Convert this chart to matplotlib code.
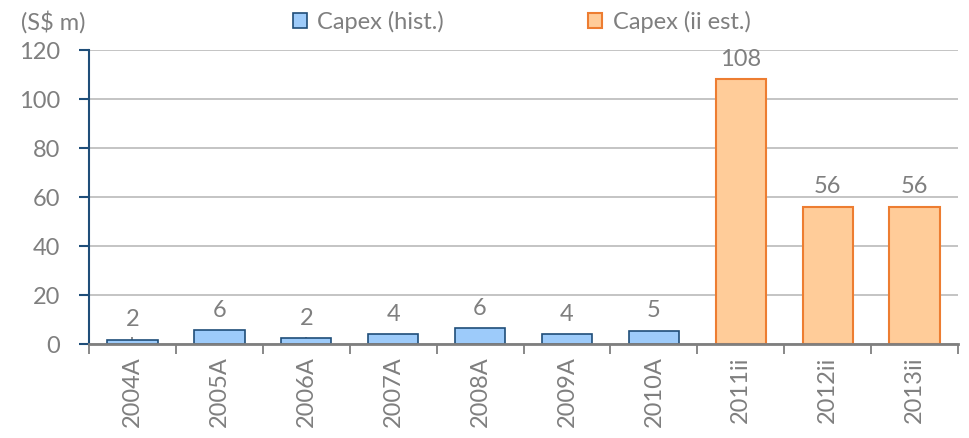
import numpy as np
import matplotlib.pyplot as plt
from matplotlib.patches import Patch
from matplotlib.ticker import FixedLocator

plt.rcParams['font.family'] = ['Lato', 'DejaVu Sans']

years_hist = ['2004A', '2005A', '2006A', '2007A', '2008A', '2009A', '2010A']
capex_hist = [1.6, 5.6, 2.3, 3.9, 6.4, 3.9, 5.4]
years_est = ['2011ii', '2012ii', '2013ii']
capex_est = [108, 56, 56]

grey = '#7F7F7F'
blue_fill, blue_edge = '#9DCBFA', '#1F4E79'
orange_fill, orange_edge = '#FFCC99', '#ED7D31'
fs = 17

labels = years_hist + years_est
x_hist = np.arange(len(years_hist))
x_est = np.arange(len(years_hist), len(labels))

fig = plt.figure(figsize=(9.69, 4.38), dpi=100)
ax = fig.add_axes([0.0918, 0.2146, 0.897, 0.6712])

ax.bar(x_hist, capex_hist, width=0.58, color=blue_fill, edgecolor=blue_edge,
       linewidth=1.2, zorder=3)
ax.bar(x_est, capex_est, width=0.58, color=orange_fill, edgecolor=orange_edge,
       linewidth=1.5, zorder=3)

for xs, vals in ((x_hist, capex_hist), (x_est, capex_est)):
    for x, v in zip(xs, vals):
        ax.annotate('%.0f' % v, (x, v), xytext=(0, 7), textcoords='offset points',
                    ha='center', va='bottom', fontsize=fs, color=grey)

ax.set_xlim(-0.5, len(labels) - 0.5)
ax.set_ylim(0, 120)
ax.set_yticks(np.arange(0, 121, 20))
ax.yaxis.grid(True, color='#BFBFBF', linewidth=1.3, zorder=0)
ax.set_axisbelow(True)

# category boundaries get the outside ticks, centres get small inside ticks
ax.xaxis.set_major_locator(FixedLocator(np.arange(-0.5, len(labels), 1.0)))
ax.xaxis.set_minor_locator(FixedLocator(np.arange(len(labels))))
ax.set_xticklabels([])
ax.set_xticks(np.arange(len(labels)), labels, minor=True, rotation=90)
ax.tick_params(axis='x', which='major', length=7, width=1.3, color=grey, direction='out')
ax.tick_params(axis='x', which='minor', length=5, width=1.3, color=grey, direction='in',
               labelsize=fs, labelcolor=grey, pad=9)
ax.tick_params(axis='y', length=7, width=1.5, color=blue_edge, labelsize=fs,
               labelcolor=grey, pad=14)

for side in ('top', 'right'):
    ax.spines[side].set_visible(False)
ax.spines['left'].set_color(blue_edge)
ax.spines['left'].set_linewidth(1.5)
ax.spines['bottom'].set_color(grey)
ax.spines['bottom'].set_linewidth(2)
ax.spines['bottom'].set_zorder(4)

fig.text(0.022, 0.95, '(S$ m)', fontsize=fs, color=grey, va='center', ha='left')

handles = [Patch(facecolor=blue_fill, edgecolor=blue_edge, linewidth=1.2, label='Capex (hist.)'),
           Patch(facecolor=orange_fill, edgecolor=orange_edge, linewidth=1.5, label='Capex (ii est.)')]
fig.legend(handles=handles, loc='center left', bbox_to_anchor=(0.302, 0.95), ncol=2,
           frameon=False, fontsize=fs, labelcolor=grey, handlelength=0.6,
           handleheight=0.6, handletextpad=0.45, columnspacing=6.1,
           borderaxespad=0, borderpad=0)

fig.savefig('out.png', dpi=100)
